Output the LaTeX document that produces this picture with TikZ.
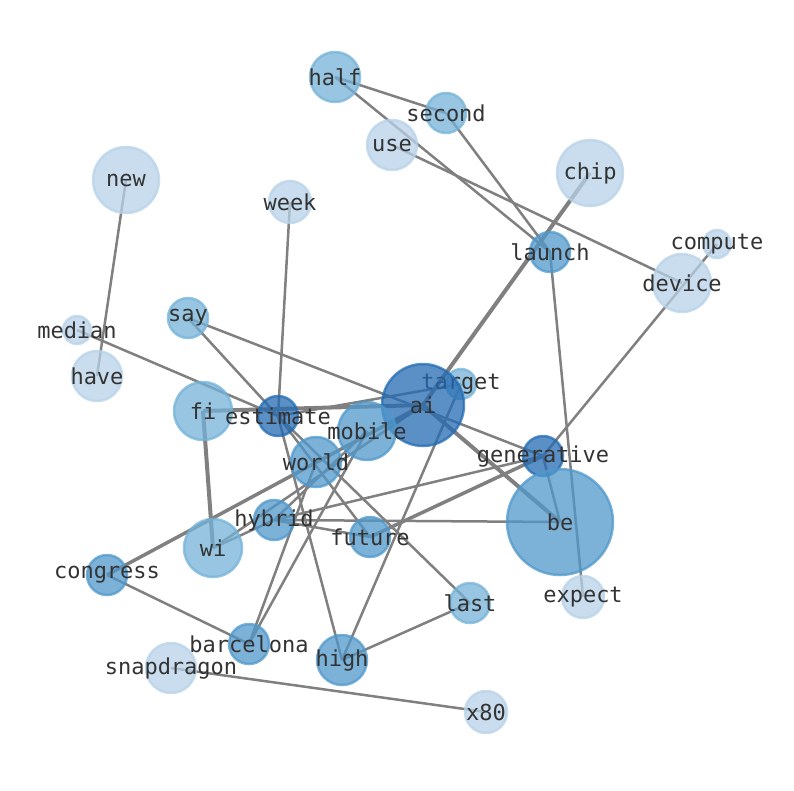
\documentclass[tikz,border=0pt]{standalone}
\usepackage{fontspec}
\newfontfamily\labelfont{DejaVu Sans Mono}
\usetikzlibrary{backgrounds}
\definecolor{bluA}{RGB}{36,107,179}
\definecolor{bluB}{RGB}{80,152,203}
\definecolor{bluC}{RGB}{116,178,216}
\definecolor{bluD}{RGB}{183,210,232}
\definecolor{edgegray}{RGB}{128,128,128}
\definecolor{labelgray}{RGB}{51,51,51}
\begin{document}
\begin{tikzpicture}[x=1pt,y=-1pt,
  word/.style={circle,inner sep=0pt,line width=2.5pt,fill opacity=0.75,draw opacity=0.75,
    label={[text=labelgray,text opacity=1,font=\labelfont\fontsize{22}{26}\selectfont]center:#1}},
  lvA/.style={fill=bluA,draw=bluA},
  lvB/.style={fill=bluB,draw=bluB},
  lvC/.style={fill=bluC,draw=bluC},
  lvD/.style={fill=bluD,draw=bluD},
  edge/.style={draw=edgegray,line width=2.5pt},
  heavy/.style={draw=edgegray,line width=4pt}]
\useasboundingbox(0,0)rectangle(794,790);
%
\node[word=half,lvC,minimum size=50pt](half)at(335,77){};
\node[word=second,lvC,minimum size=40pt](second)at(446,113){};
\node[word=use,lvD,minimum size=50pt](use)at(392,145){};
\node[word=new,lvD,minimum size=66pt](new)at(126,180){};
\node[word=chip,lvD,minimum size=66pt](chip)at(590,173){};
\node[word=week,lvD,minimum size=42pt](week)at(290,202){};
\node[word=launch,lvB,minimum size=40pt](launch)at(550,252){};
\node[word=compute,lvD,minimum size=28pt](compute)at(717,244){};
\node[word=device,lvD,minimum size=58pt](device)at(682,283){};
\node[word=median,lvD,minimum size=28pt](median)at(77,330){};
\node[word=say,lvC,minimum size=40pt](say)at(188,318){};
\node[word=have,lvD,minimum size=50pt](have)at(97,376){};
\node[word=target,lvC,minimum size=30pt](target)at(461,384){};
\node[word=ai,lvA,minimum size=82pt](ai)at(423,405){};
\node[word=fi,lvC,minimum size=58pt](fi)at(203,411){};
\node[word=estimate,lvA,minimum size=40pt](estimate)at(278,416){};
\node[word=mobile,lvB,minimum size=58pt](mobile)at(367,431){};
\node[word=world,lvB,minimum size=50pt](world)at(316,462){};
\node[word=generative,lvA,minimum size=40pt](generative)at(543,456){};
\node[word=hybrid,lvB,minimum size=40pt](hybrid)at(274,520){};
\node[word=be,lvB,minimum size=106pt](be)at(560,522){};
\node[word=wi,lvC,minimum size=58pt](wi)at(213,548){};
\node[word=future,lvB,minimum size=40pt](future)at(370,537){};
\node[word=congress,lvB,minimum size=40pt](congress)at(107,575){};
\node[word=last,lvC,minimum size=40pt](last)at(470,603){};
\node[word=expect,lvD,minimum size=42pt](expect)at(583,597){};
\node[word=barcelona,lvB,minimum size=40pt](barcelona)at(249,644){};
\node[word=high,lvB,minimum size=50pt](high)at(342,660){};
\node[word=snapdragon,lvD,minimum size=50pt](snapdragon)at(171,668){};
\node[word=x80,lvD,minimum size=42pt](x80)at(486,712){};
%
\begin{scope}[on background layer]
\draw[edge](half.center)--(second.center);
\draw[edge](half.center)--(launch.center);
\draw[edge](second.center)--(launch.center);
\draw[edge](use.center)--(device.center);
\draw[heavy](chip.center)--(ai.center);
\draw[edge](launch.center)--(expect.center);
\draw[edge](compute.center)--(generative.center);
\draw[edge](new.center)--(have.center);
\draw[edge](median.center)--(estimate.center);
\draw[edge](say.center)--(estimate.center);
\draw[edge](say.center)--(generative.center);
\draw[edge](week.center)--(estimate.center);
\draw[heavy](fi.center)--(ai.center);
\draw[edge](estimate.center)--(target.center);
\draw[edge](estimate.center)--(high.center);
\draw[edge](estimate.center)--(last.center);
\draw[edge](estimate.center)--(future.center);
\draw[edge](world.center)--(barcelona.center);
\draw[edge](mobile.center)--(barcelona.center);
\draw[heavy](fi.center)--(wi.center);
\draw[edge](wi.center)--(hybrid.center);
\draw[edge](wi.center)--(ai.center);
\draw[heavy,line width=3.5pt](congress.center)--(ai.center);
\draw[edge](hybrid.center)--(mobile.center);
\draw[edge](hybrid.center)--(be.center);
\draw[edge](hybrid.center)--(future.center);
\draw[edge](hybrid.center)--(generative.center);
\draw[heavy,line width=3.5pt](generative.center)--(future.center);
\draw[heavy](ai.center)--(be.center);
\draw[edge](generative.center)--(be.center);
\draw[edge](target.center)--(high.center);
\draw[edge](congress.center)--(barcelona.center);
\draw[edge](snapdragon.center)--(x80.center);
\draw[edge](high.center)--(last.center);
\end{scope}
\end{tikzpicture}
\end{document}
